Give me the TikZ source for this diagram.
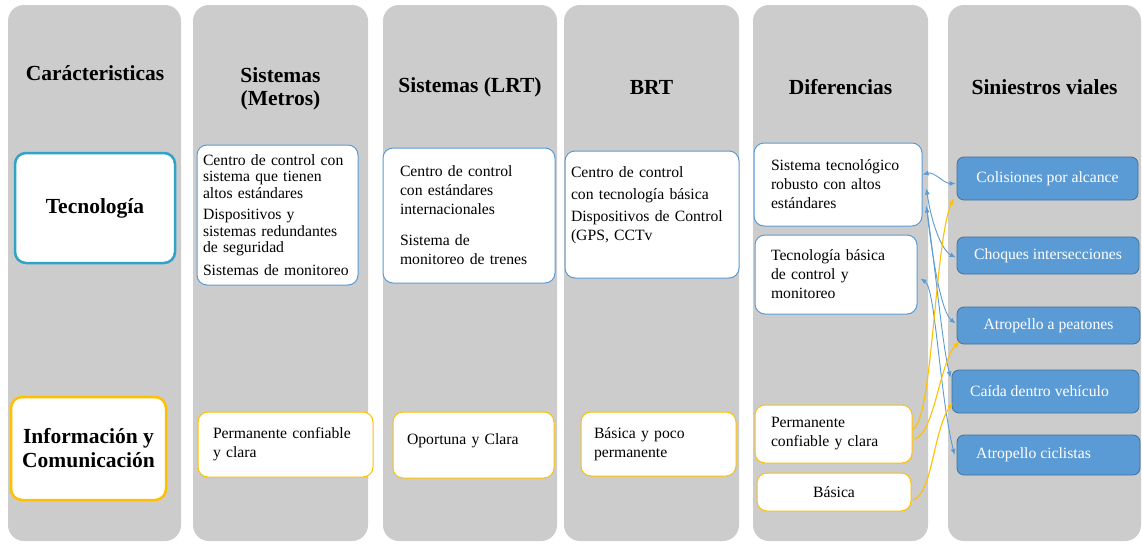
\documentclass[tikz,border=0pt]{standalone}
\usepackage{fontspec}
\setmainfont{Liberation Serif}
\usetikzlibrary{arrows.meta,calc}
\definecolor{colgray}{HTML}{CCCCCC}
\definecolor{myblue}{HTML}{5B9BD5}
\definecolor{darkblue}{HTML}{41719C}
\definecolor{tealb}{HTML}{31A3C6}
\definecolor{gold}{HTML}{FFC000}
\begin{document}
\begin{tikzpicture}[x=1pt,y=-1pt,
  column/.style={fill=colgray, draw=none, rounded corners=16pt},
  head/.style={font=\fontsize{21.5}{23}\selectfont\bfseries, align=center, inner sep=0pt},
  wbox/.style={draw=myblue, fill=white, line width=1pt, rounded corners=10pt,
    font=\fontsize{15.7}{19}\selectfont, align=left, inner ysep=0pt},
  ybox/.style={wbox, draw=gold},
  catbox/.style={fill=white, line width=2.5pt, rounded corners=11pt,
    font=\fontsize{21.5}{24}\selectfont\bfseries, align=center, inner sep=0pt},
  sbox/.style={fill=myblue, draw=darkblue, line width=0.8pt, rounded corners=7pt,
    text=white, font=\fontsize{15.7}{18}\selectfont, inner sep=0pt},
  barrow/.style={draw=myblue, line width=0.9pt, {Latex[length=6pt,width=5pt]}-{Latex[length=6pt,width=5pt]}},
  bline/.style={draw=myblue, line width=0.9pt, -{Latex[length=6pt,width=5pt]}},
  yarrow/.style={draw=gold, line width=1.1pt, -{Latex[length=6pt,width=5pt]}},
]
\useasboundingbox (0,0) rectangle (1142,544);
\fill[white] (0,0) rectangle (1142,544);

% columns
\fill[column] (8,5) rectangle (181,541);
\fill[column] (193,5) rectangle (368,541);
\fill[column] (383,5) rectangle (557,541);
\fill[column] (564,5) rectangle (739,541);
\fill[column] (753,5) rectangle (928,541);
\fill[column] (948,5) rectangle (1141,541);

% headers
\node[head] (h1) at (95,73) {Carácteristicas};
\node[head] (h2) at (280.5,89) {Sistemas\\(Metros)};
\node[head] (h3) at (470,87) {Sistemas (LRT)};
\node[head] (h4) at (651.5,87) {BRT};
\node[head] (h5) at (840.5,87) {Diferencias};
\node[head] (h6) at (1044.5,87) {Siniestros viales};

% category boxes
\node[catbox, draw=tealb, minimum width=160pt, minimum height=110pt] (tec) at (95,208) {Tecnología};
\node[catbox, draw=gold, minimum width=155pt, minimum height=103pt] (inf) at (88.5,448.5) {Información y\\Comunicación};

% Metros
\node[wbox, minimum width=161pt, minimum height=140pt, inner xsep=6pt, text width=149pt,
  font=\fontsize{15.7}{16.5}\selectfont] (m1) at (277.5,215)
  {Centro de control con\\sistema que tienen\\altos estándares\\[5pt]Dispositivos y\\sistemas redundantes\\de seguridad\\[6pt]Sistemas de monitoreo};
\node[ybox, minimum width=175pt, minimum height=65pt, inner xsep=15pt, text width=145pt] (m2) at (285.5,444.5)
  {Permanente confiable\\y clara};

% LRT
\node[wbox, minimum width=172pt, minimum height=135pt, inner xsep=17pt, text width=138pt] (l1) at (469,215.5)
  {Centro de control\\con estándares\\internacionales\\[12pt]Sistema de\\monitoreo de trenes};
\node[ybox, minimum width=161pt, minimum height=66pt, inner xsep=14pt, text width=133pt, text depth=12pt] (l2) at (473.5,445)
  {Oportuna y Clara};

% BRT
\node[wbox, minimum width=174pt, minimum height=127pt, inner xsep=6pt, text width=162pt] (r1) at (652,214.5)
  {Centro de control\\[3pt]con tecnología básica\\[3pt]Dispositivos de Control\\(GPS, CCTv\\[2pt]\mbox{}};
\node[ybox, minimum width=155pt, minimum height=64pt, inner xsep=13pt, text width=129pt] (r2) at (658.5,444)
  {Básica y poco\\permanente};

% Diferencias
\node[wbox, minimum width=168pt, minimum height=83pt, inner xsep=17pt, text width=134pt] (d1) at (838,184.5)
  {Sistema tecnológico\\robusto con altos\\estándares};
\node[wbox, minimum width=162pt, minimum height=79pt, inner xsep=16pt, text width=130pt] (d2) at (836,274.5)
  {Tecnología básica\\de control y\\monitoreo};
\node[ybox, minimum width=157pt, minimum height=58pt, inner xsep=16pt, text width=125pt] (di1) at (833.5,434)
  {Permanente\\confiable y clara};
\node[ybox, minimum width=154pt, minimum height=38pt, align=center] (di2) at (834,492) {Básica};

% Siniestros viales
\node[sbox, minimum width=181pt, minimum height=43pt] (s1) at (1047.5,178.5) {Colisiones por alcance};
\node[sbox, minimum width=182pt, minimum height=37pt] (s2) at (1048,255.5) {Choques intersecciones};
\node[sbox, minimum width=183pt, minimum height=37pt] (s3) at (1048.5,325.5) {Atropello a peatones};
\node[sbox, minimum width=187pt, minimum height=43pt] (s4) at (1045.5,391.5) {\hspace*{-12pt}Caída dentro vehículo};
\node[sbox, minimum width=183pt, minimum height=40pt] (s5) at (1048.5,455) {\hspace*{-30pt}Atropello ciclistas};

% blue connectors
\draw[barrow] ($(d1.east)+(0,-10)$) .. controls +(12,-3) and +(-12,0) .. ($(s1.west)+(-1,5)$);
\draw[barrow] ($(d1.east)+(4,4)$) .. controls +(4,30) and +(-15,-8) .. ($(s2.west)+(-1,2)$);
\draw[barrow] ($(d1.east)+(4,22)$) .. controls +(5,45) and +(-15,-12) .. ($(s3.west)+(-1,-2)$);
\draw[bline] ($(d1.east)+(4,22)$) .. controls +(10,70) and +(-8,-30) .. ($(s4.west)+(-1,-14)$);
\draw[barrow] ($(d2.east)+(3,4)$) .. controls +(15,10) and +(-15,-60) .. ($(s5.west)+(-2,0)$);

% yellow connectors
\draw[yarrow] ($(di1.east)+(0,-5)$) .. controls +(20,-5) and +(-19,42) .. ($(s1.south west)+(-3,-2)$);
\draw[yarrow] ($(di1.east)+(2,5)$) .. controls +(20,-5) and +(-20,20) .. ($(s3.south west)+(3,-3)$);
\draw[yarrow] ($(di2.east)+(1,8)$) .. controls +(20,-5) and +(-20,30) .. ($(s4.south west)+(1,-11)$);
\end{tikzpicture}
\end{document}
